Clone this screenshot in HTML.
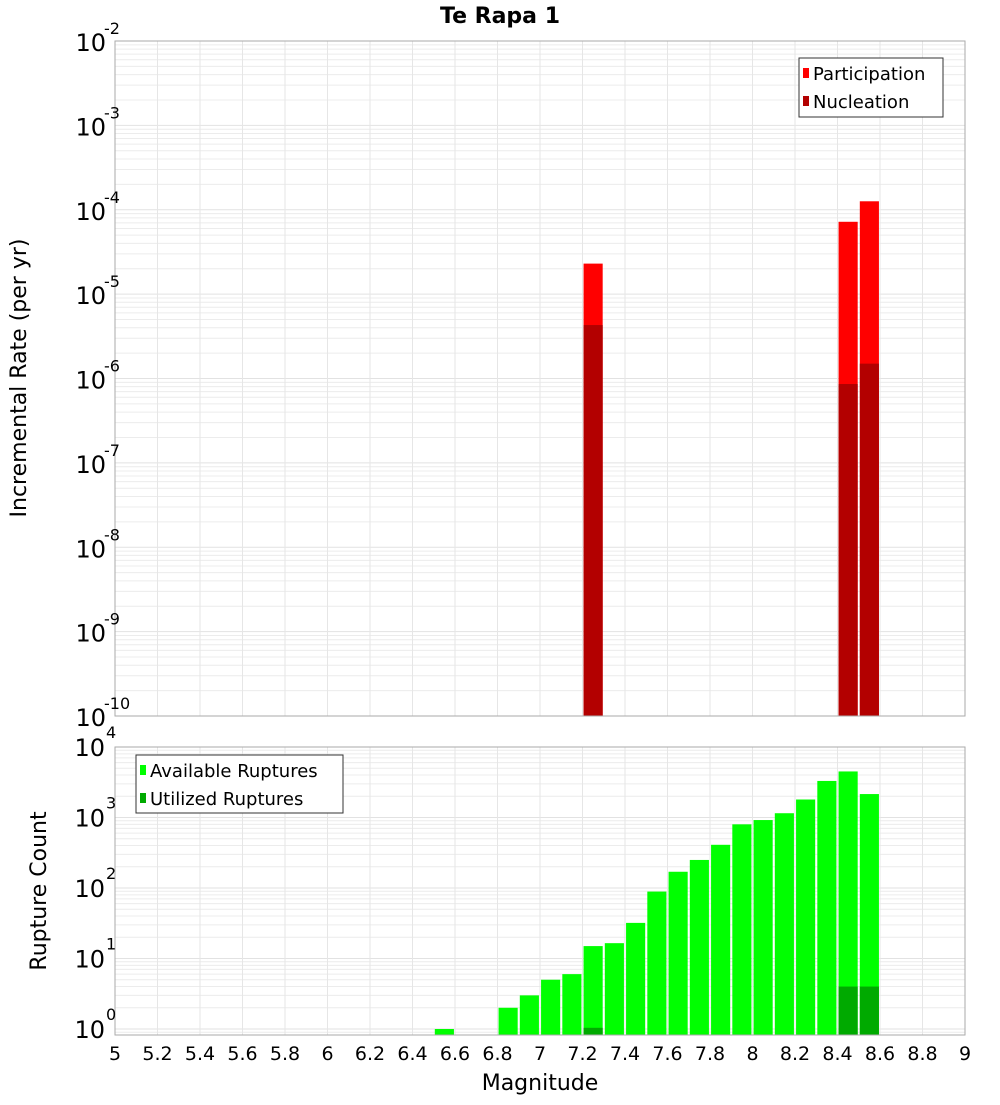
<!DOCTYPE html>
<html><head><meta charset="utf-8"><style>
body{margin:0;background:#fff;font-family:"Liberation Sans","DejaVu Sans",sans-serif}
svg text{font-family:"DejaVu Sans","Liberation Sans",sans-serif}
</style></head><body>
<svg id="c" width="1000" height="1100" xmlns="http://www.w3.org/2000/svg"></svg>
<script>
const mags=[6.55,6.85,6.95,7.05,7.15,7.25,7.35,7.45,7.55,7.65,7.75,7.85,7.95,8.05,8.15,8.25,8.35,8.45,8.55];
const available=[1,2,3,5,6,15,16.5,32,89,170,250,410,800,920,1150,1800,3300,4500,2150];
const utilMags=[7.25,8.45,8.55];
const utilized=[1.04,4,4];
const rateMags=[7.25,8.45,8.55];
const participation=[2.3e-5,7.2e-5,1.26e-4];
const nucleation=[4.3e-6,8.6e-7,1.5e-6];
const xTicks=["5","5.2","5.4","5.6","5.8","6","6.2","6.4","6.6","6.8","7","7.2","7.4","7.6","7.8","8","8.2","8.4","8.6","8.8","9"];
const topExp=[-10,-9,-8,-7,-6,-5,-4,-3,-2];
const botExp=[0,1,2,3,4];

const NS="http://www.w3.org/2000/svg";
const svg=document.getElementById('c');
function el(t,a,p){const e=document.createElementNS(NS,t);for(const k in a)e.setAttribute(k,a[k]);(p||svg).appendChild(e);return e;}
const X0=115,X1=965;
const x=v=>X0+(v-5)/4*(X1-X0);
const T0=41,T1=716;
const yT=v=>T1-(Math.log10(v)+10)/8*(T1-T0);
const B0=747,B1=1035,BPD=70.5;
const yB=v=>B0+(4-Math.log10(v))*BPD;

function grid(top,bot,yf,lo,hi){
  const g=el('g',{});
  
  
  for(let e=lo;e<=hi;e++)for(let m=1;m<10;m++){const v=m*Math.pow(10,e);const yy=yf(v);if(yy<top-0.5||yy>bot+0.5)continue;
    el('line',{x1:X0,x2:X1,y1:yy,y2:yy,stroke:m==1?'#e2e2e2':'#ececec','stroke-width':1},g);}
  xTicks.forEach(t=>{const xx=x(+t);el('line',{x1:xx,x2:xx,y1:top,y2:bot,stroke:'#e6e6e6','stroke-width':1},g);});
}
grid(T0,T1,yT,-10,-3);
grid(B0,B1,yB,-1,3);

// top bars
rateMags.forEach((m,i)=>{
  const r=el('rect',{x:x(m-0.045),width:x(0.09+5)-X0,y:yT(participation[i]),height:T1-yT(participation[i]),fill:'#ff0000'});
  
  
  const n=el('rect',{x:x(m-0.045),width:x(0.09+5)-X0,y:yT(nucleation[i]),height:T1-yT(nucleation[i]),fill:'#b30000'});
  
  
});
// bottom bars
mags.forEach((m,i)=>{
  const r=el('rect',{x:x(m-0.045),width:x(0.09+5)-X0,y:yB(available[i]),height:B1-yB(available[i]),fill:'#00ff00'});
  
  
});
utilMags.forEach((m,i)=>{
  const r=el('rect',{x:x(m-0.045),width:x(0.09+5)-X0,y:yB(utilized[i]),height:B1-yB(utilized[i]),fill:'#00aa00'});
  
  
});
// frames
el('rect',{x:X0,y:T0,width:X1-X0,height:T1-T0,fill:'none',stroke:'#aaa'});
el('rect',{x:X0,y:B0,width:X1-X0,height:B1-B0,fill:'none',stroke:'#aaa'});

// y tick labels
topExp.forEach(e=>{const yy=yT(Math.pow(10,e));
  const t=el('text',{x:106,y:yy+10,'text-anchor':'end','font-size':24,fill:'#000'});t.textContent='10';
  
  
  const s=el('text',{x:104,y:yy-7,'font-size':16,fill:'#000'});s.textContent=String(e);
  
  });
botExp.forEach(e=>{const yy=yB(Math.pow(10,e));
  const t=el('text',{x:105,y:yy+9,'text-anchor':'end','font-size':24,fill:'#000'});t.textContent='10';
  
  
  const s=el('text',{x:106,y:yy-9,'font-size':16,fill:'#000'});s.textContent=String(e);
  
  });
xTicks.forEach(t=>{const tx=el('text',{x:x(+t),y:1060,'text-anchor':'middle','font-size':19,fill:'#000'});tx.textContent=t;
  
  });
</script>
<svg width="1000" height="1100" style="position:absolute;left:0;top:0" xmlns="http://www.w3.org/2000/svg">
<text x="500" y="23" text-anchor="middle" font-size="22" font-weight="bold">Te Rapa 1</text>
<text transform="translate(26,378) rotate(-90)" text-anchor="middle" font-size="22">Incremental Rate (per yr)</text>
<text transform="translate(46,891) rotate(-90)" text-anchor="middle" font-size="22">Rupture Count</text>
<text x="540" y="1090" text-anchor="middle" font-size="22">Magnitude</text>
<g>
<rect x="799" y="58" width="144" height="59" fill="#fff" stroke="#333"/>
<rect x="803" y="68" width="6" height="10" fill="#ff0000"/>
<text x="813" y="80" font-size="18">Participation</text>
<rect x="803" y="96" width="6" height="10" fill="#b30000"/>
<text x="813" y="108" font-size="18">Nucleation</text>
</g>
<g>
<rect x="136" y="755" width="207" height="58" fill="#fff" stroke="#333"/>
<rect x="140" y="765" width="6" height="10" fill="#00ff00"/>
<text x="150" y="777" font-size="18">Available Ruptures</text>
<rect x="140" y="793" width="6" height="10" fill="#00aa00"/>
<text x="150" y="805" font-size="18">Utilized Ruptures</text>
</g>
</svg>
</body></html>
